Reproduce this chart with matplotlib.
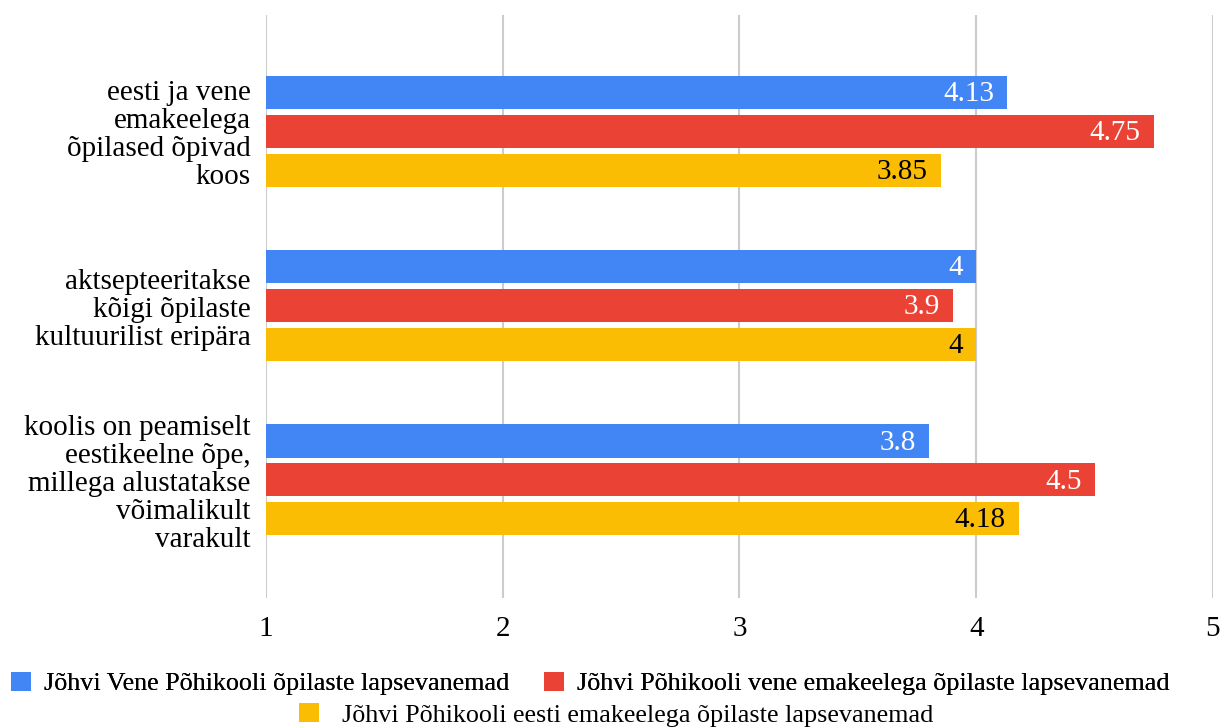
import numpy as np
import matplotlib.pyplot as plt
from matplotlib.patches import Patch

plt.rcParams['font.family'] = ['Liberation Serif', 'DejaVu Serif']

categories = [
    "eesti ja vene\nemakeelega\nõpilased õpivad\nkoos",
    "aktsepteeritakse\nkõigi õpilaste\nkultuurilist eripära",
    "koolis on peamiselt\neestikeelne õpe,\nmillega alustatakse\nvõimalikult\nvarakult",
]
series = [
    "Jõhvi Vene Põhikooli õpilaste lapsevanemad",
    "Jõhvi Põhikooli vene emakeelega õpilaste lapsevanemad",
    "Jõhvi Põhikooli eesti emakeelega õpilaste lapsevanemad",
]
vene_pk = [4.13, 4.0, 3.8]
vene_emakeel = [4.75, 3.9, 4.5]
eesti_emakeel = [3.85, 4.0, 4.18]
value_labels = [["4.13", "4", "3.8"], ["4.75", "3.9", "4.5"], ["3.85", "4", "4.18"]]

colors = ["#4285F4", "#EA4335", "#FBBC04"]
text_colors = ["white", "white", "black"]

fig = plt.figure(figsize=(12.23, 7.28), dpi=100)
ax = fig.add_axes([0.2175, 0.179, 0.9918 - 0.2175, 0.979 - 0.179])

y = np.arange(len(categories))
h = 0.19
offsets = [-0.223, 0.0, 0.223]
for i, vals in enumerate([vene_pk, vene_emakeel, eesti_emakeel]):
    vals = np.array(vals)
    ax.barh(y + offsets[i], vals - 1, left=1, height=h, color=colors[i], zorder=3)
    for j, v in enumerate(vals):
        ax.text(v - 0.055, y[j] + offsets[i] + 0.01, value_labels[i][j], ha='right', va='center',
                color=text_colors[i], fontsize=21, zorder=4)

ax.set_xlim(1, 5)
ax.set_ylim(2.676, -0.665)
ax.set_xticks([1, 2, 3, 4, 5])
ax.set_xticklabels(["1", "2", "3", "4", "5"], fontsize=21)
ax.set_yticks(y)
ax.set_yticklabels(categories, fontsize=21, linespacing=1.1)
ax.tick_params(axis='both', length=0)
ax.tick_params(axis='x', pad=13)
ax.tick_params(axis='y', pad=11)
ax.grid(axis='x', color='#cccccc', linewidth=1.5, zorder=0)
for s in ax.spines.values():
    s.set_visible(False)

handles = [Patch(facecolor=c, edgecolor='none') for c in colors]
leg1 = fig.legend(handles[:2], series[:2], loc='center', bbox_to_anchor=(0.4825, 0.061), ncol=2,
                  frameon=False, fontsize=18.8, handlelength=0.75, handleheight=0.75,
                  handletextpad=0.5, columnspacing=1.35)
fig.add_artist(leg1)
fig.legend(handles[2:], series[2:], loc='center', bbox_to_anchor=(0.504, 0.018),
           frameon=False, fontsize=18.8, handlelength=0.75, handleheight=0.75, handletextpad=0.9)

fig.savefig("out.png", dpi=100)
